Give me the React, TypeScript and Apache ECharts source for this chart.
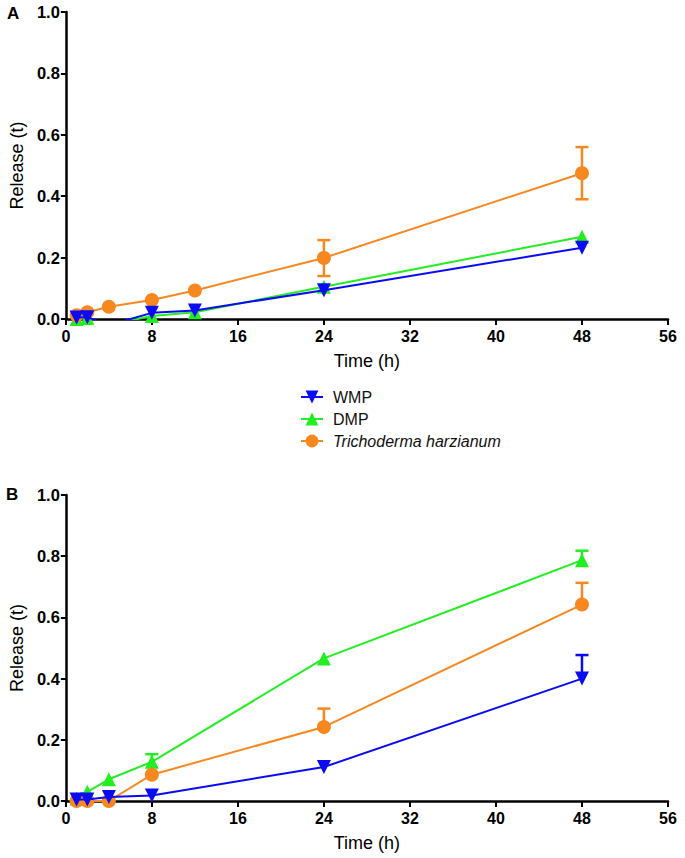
import React, { useEffect, useRef } from "react";
import * as echarts from "echarts";

// ---- data ----
const TIME_A = [1, 2, 4, 8, 12, 24, 48];
const WMP_A = [0.005, 0.006, -0.02, 0.02, 0.028, 0.094, 0.232];
const DMP_A = [0, 0.003, -0.02, 0.01, 0.022, 0.105, 0.268];
const TH_A = [0.012, 0.022, 0.04, 0.062, 0.093, 0.199, 0.475];

const TIME_B = [1, 2, 4, 8, 24, 48];
const WMP_B = [0.005, 0.005, 0.013, 0.018, 0.111, 0.4];
const DMP_B = [0.008, 0.03, 0.071, 0.128, 0.466, 0.787];
const TH_B = [0, 0, 0, 0.086, 0.242, 0.642];

// error bars: [time, mean, low, high]
const ERR_A_TH = [
  [24, 0.199, 0.14, 0.257],
  [48, 0.475, 0.39, 0.56],
];
const ERR_B_WMP = [[48, 0.4, 0.4, 0.477]];
const ERR_B_DMP = [
  [8, 0.128, 0.128, 0.153],
  [48, 0.787, 0.787, 0.818],
];
const ERR_B_TH = [
  [24, 0.242, 0.242, 0.302],
  [48, 0.642, 0.642, 0.713],
];

const SERIES_NAMES = ["WMP", "DMP", "Trichoderma harzianum"];
const X_MIN = 0;
const X_MAX = 56;
const X_STEP = 8;
const Y_MIN = 0;
const Y_MAX = 1;
const Y_STEP = 0.2;
const X_TITLE = "Time (h)";
const Y_TITLE = "Release (t)";
const PANEL_LABELS = ["A", "B"];

const BLUE = "#0a0af5";
const GREEN = "#22ee22";
const ORANGE = "#f7871f";
const FONT = "'Liberation Sans', Arial, Helvetica, sans-serif";

const zip = (xs: number[], ys: number[]) => xs.map((x, i) => [x, ys[i]]);

function errRender(color: string) {
  return (params: any, api: any) => {
    const x = api.value(0);
    const m = api.value(1);
    const lo = api.value(2);
    const hi = api.value(3);
    const pHi = api.coord([x, hi]);
    const pLo = api.coord([x, lo]);
    const half = 6.5;
    const style = { stroke: color, lineWidth: 2.5 };
    const children: any[] = [
      { type: "line", shape: { x1: pLo[0], y1: pLo[1], x2: pHi[0], y2: pHi[1] }, style },
      { type: "line", shape: { x1: pHi[0] - half, y1: pHi[1], x2: pHi[0] + half, y2: pHi[1] }, style },
    ];
    if (lo < m) {
      children.push({
        type: "line",
        shape: { x1: pLo[0] - half, y1: pLo[1], x2: pLo[0] + half, y2: pLo[1] },
        style,
      });
    }
    return { type: "group", children };
  };
}

function makeAxes(gridIndex: number) {
  const xAxis = {
    type: "value",
    gridIndex,
    min: X_MIN,
    max: X_MAX,
    interval: X_STEP,
    name: X_TITLE,
    nameLocation: "middle",
    nameGap: 33,
    nameTextStyle: { fontSize: 18, color: "#000", fontFamily: FONT },
    axisLine: { show: true, onZero: false, lineStyle: { color: "#000", width: 2.5 } },
    axisTick: { show: true, length: 6, lineStyle: { color: "#000", width: 2 } },
    axisLabel: { fontSize: 16, fontWeight: "bold", color: "#000", margin: 9, fontFamily: FONT },
    splitLine: { show: false },
  };
  const yAxis = {
    type: "value",
    gridIndex,
    min: Y_MIN,
    max: Y_MAX,
    interval: Y_STEP,
    name: Y_TITLE,
    nameLocation: "middle",
    nameGap: 37,
    nameRotate: 90,
    nameTextStyle: { fontSize: 18, color: "#000", fontFamily: FONT },
    axisLine: { show: true, onZero: false, lineStyle: { color: "#000", width: 2.5 } },
    axisTick: { show: true, length: 5, lineStyle: { color: "#000", width: 2 } },
    axisLabel: {
      fontSize: 16.5,
      fontWeight: "bold",
      color: "#000",
      margin: 6,
      fontFamily: FONT,
      formatter: (v: number) => v.toFixed(1),
    },
    splitLine: { show: false },
  };
  return { xAxis, yAxis };
}

function lineSeries(name: string, data: number[][], idx: number, color: string, symbol: string, rotate: number, z: number) {
  return {
    type: "line",
    name,
    data,
    xAxisIndex: idx,
    yAxisIndex: idx,
    symbol,
    symbolRotate: rotate,
    symbolSize: 14,
    clip: true,
    z,
    itemStyle: { color },
    lineStyle: { color, width: 2 },
  };
}

function errSeries(data: number[][], idx: number, color: string, z: number) {
  return {
    type: "custom",
    xAxisIndex: idx,
    yAxisIndex: idx,
    data,
    z,
    encode: { x: 0, y: [1, 2, 3] },
    renderItem: errRender(color),
  };
}

export default function App() {
  const ref = useRef<HTMLDivElement>(null);
  useEffect(() => {
    document.body.style.margin = "0";
    if (!ref.current) return;
    const chart = echarts.init(ref.current, undefined, { renderer: "svg" });
    const a = makeAxes(0);
    const b = makeAxes(1);
    chart.setOption({
      animation: false,
      backgroundColor: "#fff",
      textStyle: { fontFamily: FONT },
      grid: [
        { left: 59, top: 12, width: 609, height: 307 },
        { left: 59, top: 495, width: 609, height: 306 },
      ],
      xAxis: [a.xAxis, b.xAxis],
      yAxis: [a.yAxis, b.yAxis],
      legend: {
        data: SERIES_NAMES,
        orient: "vertical",
        left: 295,
        top: 384,
        itemWidth: 22,
        itemHeight: 16,
        itemGap: 6,
        textStyle: {
          fontSize: 16,
          color: "#111",
          fontFamily: FONT,
          padding: [0, 0, 0, 5],
          rich: { i: { fontStyle: "italic", fontSize: 16, color: "#111", fontFamily: FONT } },
        },
        formatter: (n: string) => (n === "Trichoderma harzianum" ? "{i|" + n + "}" : n),
      },
      graphic: [
        { type: "text", left: 7, top: 5, style: { text: PANEL_LABELS[0], font: "bold 17px " + FONT, fill: "#000" } },
        { type: "text", left: 6, top: 486, style: { text: PANEL_LABELS[1], font: "bold 17px " + FONT, fill: "#000" } },
      ],
      series: [
        errSeries(ERR_A_TH, 0, ORANGE, 3),
        lineSeries(SERIES_NAMES[1], zip(TIME_A, DMP_A), 0, GREEN, "triangle", 0, 4),
        lineSeries(SERIES_NAMES[2], zip(TIME_A, TH_A), 0, ORANGE, "circle", 0, 5),
        lineSeries(SERIES_NAMES[0], zip(TIME_A, WMP_A), 0, BLUE, "triangle", 180, 6),
        errSeries(ERR_B_DMP, 1, GREEN, 3),
        errSeries(ERR_B_TH, 1, ORANGE, 3),
        errSeries(ERR_B_WMP, 1, BLUE, 3),
        lineSeries(SERIES_NAMES[1], zip(TIME_B, DMP_B), 1, GREEN, "triangle", 0, 4),
        lineSeries(SERIES_NAMES[2], zip(TIME_B, TH_B), 1, ORANGE, "circle", 0, 5),
        lineSeries(SERIES_NAMES[0], zip(TIME_B, WMP_B), 1, BLUE, "triangle", 180, 6),
      ],
    });
    return () => chart.dispose();
  }, []);
  return <div ref={ref} style={{ width: 685, height: 858 }} />;
}
